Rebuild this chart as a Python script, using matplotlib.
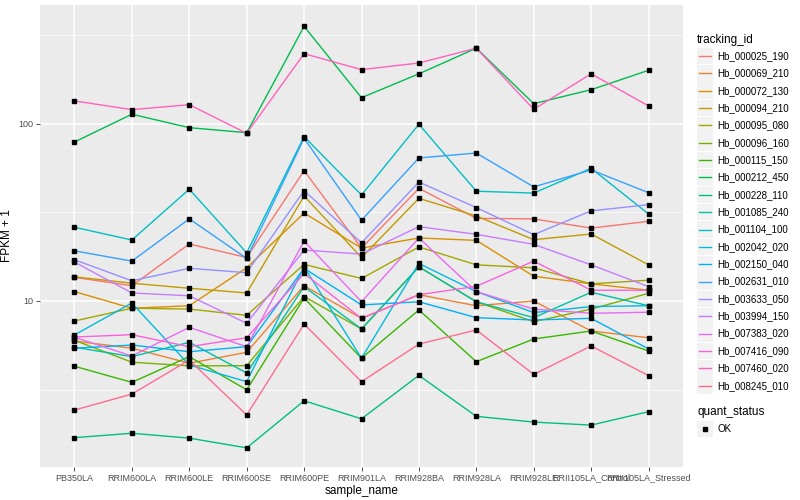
import matplotlib
matplotlib.use('Agg')
import matplotlib.pyplot as plt
import matplotlib.patches as mpatches
from matplotlib.lines import Line2D
import numpy as np

plt.rcParams['font.family'] = ['Liberation Sans', 'DejaVu Sans']

samples = ['PB350LA', 'RRIM600LA', 'RRIM600LE', 'RRIM600SE', 'RRIM600PE', 'RRIM901LA',
           'RRIM928BA', 'RRIM928LA', 'RRIM928LE', 'RRII105LA_Control', 'RRII105LA_Stressed']

tracking_ids = ['Hb_000025_190', 'Hb_000069_210', 'Hb_000072_130', 'Hb_000094_210',
                'Hb_000095_080', 'Hb_000096_160', 'Hb_000115_150', 'Hb_000212_450',
                'Hb_000228_110', 'Hb_001085_240', 'Hb_001104_100', 'Hb_002042_020',
                'Hb_002150_040', 'Hb_002631_010', 'Hb_003633_050', 'Hb_003994_150',
                'Hb_007383_020', 'Hb_007416_090', 'Hb_007460_020', 'Hb_008245_010']

# ggplot default hue palette, 20 levels
colors = ['#F8766D', '#EA8331', '#D89000', '#C09B00', '#A3A500', '#7CAE00', '#39B600',
          '#00BB4E', '#00BF7D', '#00C1A3', '#00BFC4', '#00BAE0', '#00B0F6', '#35A2FF',
          '#9590FF', '#C77CFF', '#E76BF3', '#FA62DB', '#FF62BC', '#FF6C91']

# FPKM + 1, one list per tracking_id, in sample order
hb_000025_190 = [13.6, 12.2, 21.0, 17.6, 54.5, 19.9, 43.3, 29.3, 29.1, 25.8, 28.2]
hb_000069_210 = [5.94, 5.41, 4.45, 5.13, 12.2, 7.98, 10.85, 9.4, 10.0, 6.77, 6.20]
hb_000072_130 = [11.3, 9.1, 9.4, 15.4, 31.4, 19.9, 22.7, 22.0, 13.8, 12.5, 11.5]
hb_000094_210 = [13.7, 12.6, 11.8, 11.1, 39.2, 17.6, 38.0, 30.2, 22.2, 23.9, 16.0]
hb_000095_080 = [7.71, 9.1, 9.0, 8.3, 16.1, 13.4, 20.2, 16.0, 15.4, 12.5, 13.1]
hb_000096_160 = [6.0, 4.51, 4.30, 4.31, 10.6, 6.95, 15.6, 9.9, 7.64, 9.0, 11.05]
hb_000115_150 = [4.28, 3.47, 4.85, 3.15, 10.4, 4.75, 8.9, 4.54, 6.10, 6.77, 5.22]
hb_000212_450 = [79.1, 113.5, 95.3, 89.3, 356.0, 140.8, 192.0, 268.0, 130.2, 156.2, 201.0]
hb_000228_110 = [1.69, 1.79, 1.68, 1.48, 2.73, 2.16, 3.80, 2.23, 2.07, 1.99, 2.37]
hb_001085_240 = [5.48, 4.85, 5.84, 3.92, 12.05, 6.95, 15.6, 9.9, 8.05, 11.2, 9.4]
hb_001104_100 = [26.1, 22.1, 42.8, 18.7, 84.8, 39.7, 99.6, 41.7, 40.7, 56.2, 31.0]
hb_002042_020 = [6.43, 9.74, 4.35, 3.50, 15.6, 4.75, 16.3, 11.3, 8.6, 9.3, 9.4]
hb_002150_040 = [5.41, 5.64, 5.17, 5.52, 15.3, 9.5, 9.9, 8.05, 7.81, 7.98, 5.36]
hb_002631_010 = [19.2, 16.8, 29.1, 17.4, 83.0, 28.6, 64.3, 68.5, 44.1, 55.0, 40.9]
hb_003633_050 = [17.1, 13.0, 15.3, 14.45, 42.0, 21.3, 47.0, 33.7, 23.7, 32.3, 35.0]
hb_003994_150 = [16.6, 11.1, 10.7, 7.48, 19.4, 18.4, 26.3, 23.8, 20.9, 16.0, 12.05]
hb_007383_020 = [6.24, 4.89, 7.10, 5.52, 21.8, 9.9, 22.7, 11.3, 9.0, 8.52, 8.64]
hb_007416_090 = [6.26, 6.45, 5.52, 6.20, 14.3, 7.98, 10.85, 12.1, 16.8, 11.5, 11.5]
hb_007460_020 = [135.0, 120.5, 128.5, 88.5, 249.5, 202.8, 221.0, 268.0, 121.0, 192.0, 126.4]
hb_008245_010 = [2.42, 2.98, 4.64, 2.27, 7.41, 3.50, 5.71, 6.86, 3.85, 5.57, 3.79]

series = [hb_000025_190, hb_000069_210, hb_000072_130, hb_000094_210, hb_000095_080,
          hb_000096_160, hb_000115_150, hb_000212_450, hb_000228_110, hb_001085_240,
          hb_001104_100, hb_002042_020, hb_002150_040, hb_002631_010, hb_003633_050,
          hb_003994_150, hb_007383_020, hb_007416_090, hb_007460_020, hb_008245_010]

W, H = 800, 500
fig = plt.figure(figsize=(8, 5), dpi=100)
# panel in pixels: x 40..683, y 5..467
ax = fig.add_axes([40 / W, 1 - 467 / H, (683 - 40) / W, (467 - 5) / H])
ax.set_facecolor('#EBEBEB')
for s in ax.spines.values():
    s.set_visible(False)

x = np.arange(len(samples))
for vals, col in zip(series, colors):
    ax.plot(x, vals, color=col, lw=1.0, zorder=3)
    ax.plot(x, vals, ls='none', marker='s', ms=3.0, color='black', zorder=4)

ax.set_yscale('log')
ax.set_ylim(1.154, 470)
ax.set_xlim(-0.6, len(samples) - 0.4)

ax.set_yticks([10, 100])
ax.set_yticklabels(['10', '100'])
ax.set_yticks([10 ** 0.5, 10 ** 1.5, 10 ** 2.5], minor=True)
ax.yaxis.set_minor_formatter(plt.NullFormatter())
ax.set_xticks(x)
ax.set_xticklabels(samples)

ax.grid(True, which='major', color='white', lw=1.1, zorder=0)
ax.grid(True, which='minor', axis='y', color='white', lw=0.5, zorder=0)
ax.set_axisbelow(True)
ax.tick_params(which='major', length=2.7, width=0.6, color='#333333',
               labelsize=6.5, labelcolor='#4D4D4D', pad=2)
ax.tick_params(which='minor', length=0)

ax.set_xlabel('sample_name', fontsize=8.5, labelpad=2)
ax.set_ylabel('FPKM + 1', fontsize=8.5)
ax.yaxis.set_label_coords(-0.042, 0.5)

# legend drawn in pixel coordinates, ggplot style
def fx(px):
    return px / W

def fy(py):
    return 1 - py / H

fig.text(fx(697), fy(40.5), 'tracking_id', fontsize=8.5, va='center', ha='left')
step = 17.35
for i, (name, col) in enumerate(zip(tracking_ids, colors)):
    cy = 56 + step * i
    fig.patches.append(mpatches.Rectangle((fx(697), fy(cy + 8.3)), 16 / W, 16.6 / H,
                                          transform=fig.transFigure, color='#F2F2F2',
                                          lw=0))
    fig.lines.append(Line2D([fx(699), fx(711)], [fy(cy), fy(cy)], color=col, lw=1.0,
                            transform=fig.transFigure))
    fig.text(fx(717), fy(cy), name, fontsize=7, va='center', ha='left')

fig.text(fx(697), fy(412.5), 'quant_status', fontsize=8.5, va='center', ha='left')
fig.patches.append(mpatches.Rectangle((fx(697), fy(429 + 8.3)), 16 / W, 16.6 / H,
                                      transform=fig.transFigure, color='#F2F2F2', lw=0))
fig.lines.append(Line2D([fx(705)], [fy(429)], ls='none', marker='s', ms=3.0,
                        color='black', transform=fig.transFigure))
fig.text(fx(717), fy(429), 'OK', fontsize=7, va='center', ha='left')

fig.savefig('out.png', dpi=100)
